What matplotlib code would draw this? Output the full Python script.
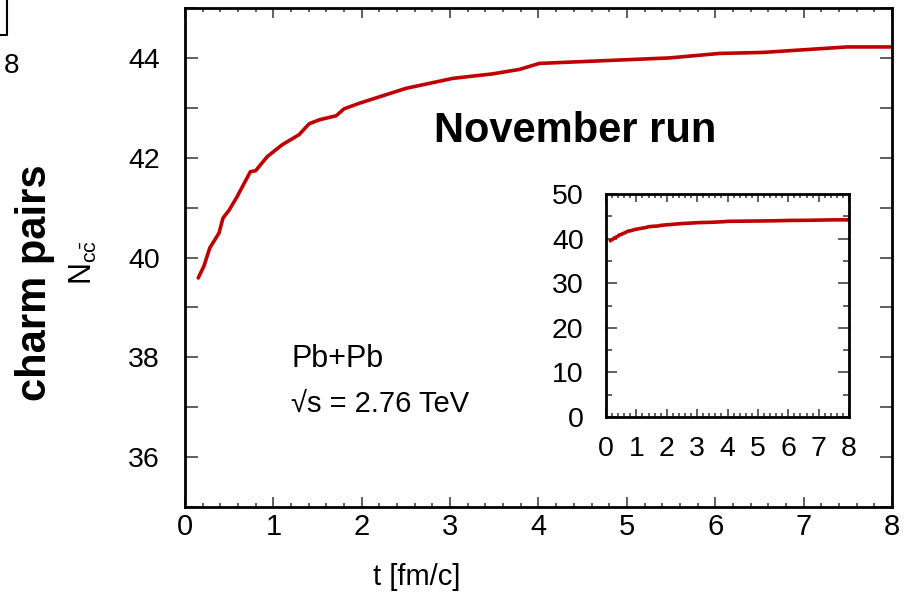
import matplotlib
matplotlib.use("Agg")
import matplotlib.pyplot as plt
from matplotlib.ticker import MultipleLocator, FuncFormatter
from matplotlib.lines import Line2D
from matplotlib import font_manager

plt.rcParams['font.family'] = ['Liberation Sans', 'DejaVu Sans']
plt.rcParams['mathtext.fontset'] = 'custom'
plt.rcParams['mathtext.rm'] = 'Liberation Sans'
plt.rcParams['mathtext.it'] = 'Liberation Sans'

names = {f.name for f in font_manager.fontManager.ttflist}
narrow = 'Liberation Sans Narrow' if 'Liberation Sans Narrow' in names else 'Liberation Sans'

# data
t = [0.15, 0.215, 0.28, 0.385, 0.43, 0.5, 0.59, 0.74, 0.80, 0.93, 1.10, 1.29,
     1.405, 1.52, 1.71, 1.80, 1.97, 2.50, 3.03, 3.48, 3.785, 4.01, 5.48, 6.05,
     6.54, 7.49, 8.0]
n_cc = [39.59, 39.83, 40.19, 40.49, 40.79, 40.95, 41.22, 41.72, 41.74, 42.02,
        42.26, 42.46, 42.68, 42.76, 42.84, 42.98, 43.09, 43.39, 43.59, 43.68,
        43.77, 43.89, 44.00, 44.09, 44.11, 44.22, 44.22]
main_xticks = [0, 1, 2, 3, 4, 5, 6, 7, 8]
inset_yticks = [0, 10, 20, 30, 40, 50]

red = '#c00000'

fig = plt.figure(figsize=(9.13, 5.99), dpi=100)
ax = fig.add_axes([0.2026, 0.1536, 0.977 - 0.2026, 0.9866 - 0.1536])
ax.plot(t, n_cc, color=red, lw=2.6, solid_capstyle='round', solid_joinstyle='round')
ax.set_xlim(0, 8)
ax.set_ylim(35, 45)
ax.set_xticks(main_xticks)
ax.xaxis.set_minor_locator(MultipleLocator(0.2))
ax.yaxis.set_major_locator(MultipleLocator(1))
ax.yaxis.set_major_formatter(FuncFormatter(lambda v, p: '%d' % round(v) if round(v) % 2 == 0 and 35 < v < 45 else ''))
ax.tick_params(axis='both', which='both', direction='in', top=True, right=True,
               color='#444444', width=1.2)
ax.tick_params(axis='x', which='major', length=7, pad=4)
ax.tick_params(axis='x', which='minor', length=3)
ax.tick_params(axis='y', which='major', length=9, pad=18)
ax.tick_params(axis='y', labelsize=20.5)
for lab in ax.get_xticklabels():
    lab.set_fontfamily([narrow, 'Liberation Sans'])
    lab.set_fontsize(21)
for s in ax.spines.values():
    s.set_linewidth(2)

ax.text(4.42, 42.53, 'November run', fontsize=30, fontweight='bold',
        ha='center', va='center')
ax.text(1.20, 37.81, 'Pb+Pb', fontsize=22, ha='left', va='baseline')
ax.text(1.20, 36.90, '\u221as = 2.76 TeV', fontsize=21, ha='left', va='baseline')

fig.text(417 / 913, 1 - 577 / 599, 't [fm/c]', fontsize=21, ha='center', va='center',
         family=[narrow, 'Liberation Sans'])
fig.text(35 / 913, 1 - 283 / 599, 'charm pairs', fontsize=30, fontweight='bold',
         rotation=90, ha='center', va='center')
fig.text(83 / 913, 1 - 262 / 599, r'$\mathregular{N_{c\bar{c}}}$', fontsize=22,
         rotation=90, ha='center', va='center')

# cropped remnants of neighbouring panel
fig.add_artist(Line2D([0, 7 / 913, 7 / 913], [1 - 35 / 599, 1 - 35 / 599, 1.0],
                      transform=fig.transFigure, color='black', lw=1.5))
fig.text(11 / 913, 1 - 66 / 599, '8', fontsize=20, ha='center', va='center')

# inset
ins = fig.add_axes([0.6637, 0.3038, 0.930 - 0.6637, 0.676 - 0.3038])
ins.plot(t, n_cc, color=red, lw=2.6, solid_joinstyle='round')
ins.set_xlim(0, 8)
ins.set_ylim(0, 50)
ins.set_xticks(main_xticks)
ins.set_yticks(inset_yticks)
ins.xaxis.set_minor_locator(MultipleLocator(0.2))
ins.yaxis.set_minor_locator(MultipleLocator(5))
ins.tick_params(axis='both', which='both', direction='in', top=True, right=True,
                color='#444444', width=1.2, labelsize=20.5)
ins.tick_params(axis='both', which='major', length=8)
ins.tick_params(axis='both', which='minor', length=4)
ins.tick_params(axis='x', which='major', length=6, pad=14)
ins.tick_params(axis='x', which='minor', length=3)
ins.tick_params(axis='y', which='major', pad=16)
for s in ins.spines.values():
    s.set_linewidth(2)

fig.savefig('out.png', dpi=100)
